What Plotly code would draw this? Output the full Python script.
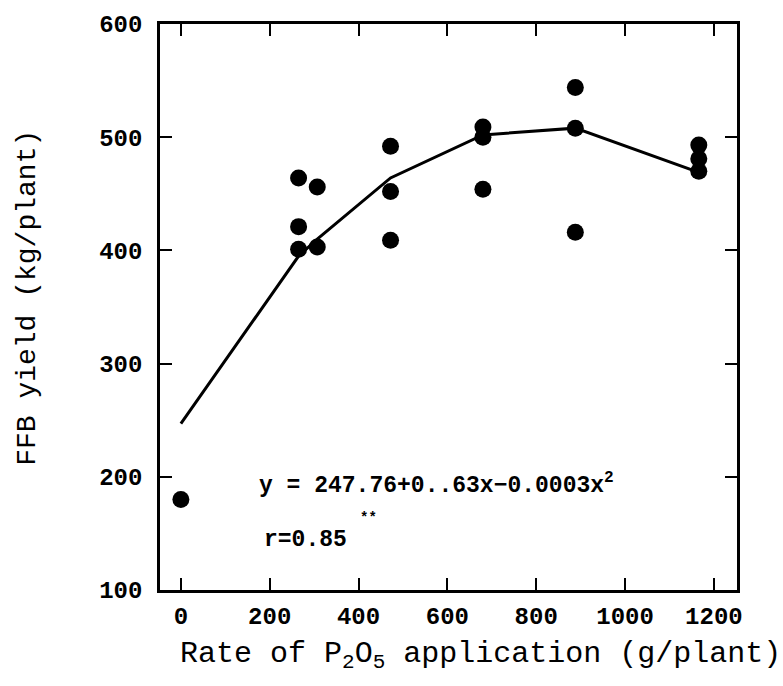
import plotly.graph_objects as go

# P2O5 rate (g/plant) and observed FFB yield (kg/plant)
rate_obs = [0, 265, 265, 265, 307, 307, 472, 472, 472, 680, 680, 680, 888, 888, 888, 1166, 1166, 1166]
yield_obs = [180, 464, 421, 401, 456, 403, 492, 452, 409, 509, 500, 454, 544, 508, 416, 493, 481, 470]

# fitted response line
rate_fit = [0, 265, 307, 472, 680, 888, 1166]
yield_fit = [247, 395, 410, 464, 502, 508, 469]

x_ticks = [0, 200, 400, 600, 800, 1000, 1200]
y_ticks = [100, 200, 300, 400, 500, 600]

mono = "Liberation Mono"

fig = go.Figure()
fig.add_trace(go.Scatter(x=rate_fit, y=yield_fit, mode="lines",
                         line=dict(color="black", width=3), showlegend=False))
fig.add_trace(go.Scatter(x=rate_obs, y=yield_obs, mode="markers",
                         marker=dict(color="black", size=17), showlegend=False))

axis_common = dict(showline=True, linecolor="black", linewidth=2.5, mirror="ticks",
                   ticks="inside", ticklen=12, tickwidth=2, tickcolor="black",
                   showgrid=False, zeroline=False,
                   tickfont=dict(family=mono, size=24, color="black", weight="bold"))

fig.update_layout(
    width=783, height=686,
    margin=dict(l=160, r=46, t=22, b=96),
    plot_bgcolor="white", paper_bgcolor="white",
    xaxis=dict(range=[-47, 1252], tickvals=x_ticks, ticklabelstandoff=2, **axis_common),
    yaxis=dict(range=[100, 600], tickvals=y_ticks, ticklabelstandoff=10, **axis_common),
)

# axis titles
fig.add_annotation(x=0.556, y=-0.116, xref="paper", yref="paper",
                   xanchor="center", yanchor="middle", showarrow=False,
                   text="Rate of P<sub>2</sub>O<sub>5</sub> application (g/plant)",
                   font=dict(family=mono, size=30, color="black"))
fig.add_annotation(x=-0.229, y=0.516, xref="paper", yref="paper",
                   xanchor="center", yanchor="middle", showarrow=False, textangle=-90,
                   text="FFB yield (kg/plant)",
                   font=dict(family=mono, size=28, color="black"))

# regression equation and correlation
fig.add_annotation(x=171, y=194, xref="x", yref="y", xanchor="left", yanchor="middle",
                   text="y = 247.76+0..63x\u22120.0003x<sup>2</sup>", showarrow=False,
                   font=dict(family=mono, size=23, color="black", weight="bold"))
fig.add_annotation(x=399, y=164, xref="x", yref="y", xanchor="left", yanchor="middle",
                   text="**", showarrow=False,
                   font=dict(family=mono, size=14, color="black", weight="bold"))
fig.add_annotation(x=182, y=144, xref="x", yref="y", xanchor="left", yanchor="middle",
                   text="r=0.85", showarrow=False,
                   font=dict(family=mono, size=23, color="black", weight="bold"))

fig.write_html("out.html")
